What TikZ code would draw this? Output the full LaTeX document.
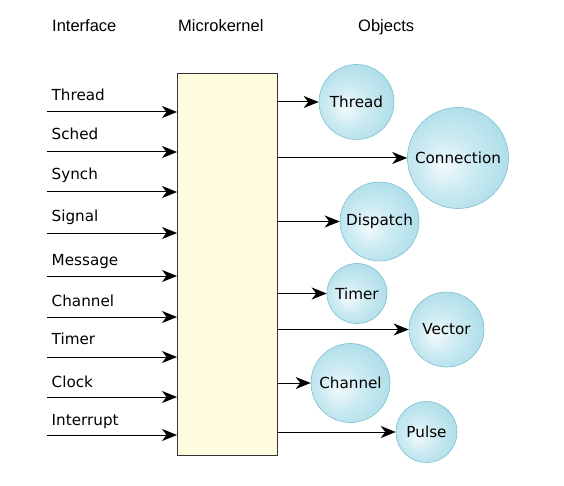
\documentclass[tikz,border=0pt]{standalone}
\usepackage{fontspec}
\setmainfont{DejaVu Sans}
\newfontfamily\hdrfont{Liberation Sans}
\usetikzlibrary{arrows.meta}
\definecolor{boxfill}{HTML}{FFFBDF}
\definecolor{boxline}{HTML}{333333}
\definecolor{sphA}{HTML}{F2FAFC}
\definecolor{sphB}{HTML}{CDEBF2}
\definecolor{sphC}{HTML}{A0D8E5}
\definecolor{sphD}{HTML}{7EC5D6}
\definecolor{sphLine}{HTML}{7DBFCF}
\pgfdeclareradialshading{sphereshade}{\pgfpoint{-8bp}{-4bp}}{color(0bp)=(sphA); color(13bp)=(sphB); color(36bp)=(sphC); color(50bp)=(sphD)}
\begin{document}
\begin{tikzpicture}[x=1pt,y=-1pt,
  lbl/.style={anchor=base west, font=\fontsize{15.2}{18}\selectfont, inner sep=0pt},
  hdr/.style={anchor=base west, font=\hdrfont\fontsize{16.5}{19}\selectfont, inner sep=0pt},
  obj/.style={circle, draw=sphLine, line width=0.6pt, shading=sphereshade, minimum size=#1, inner sep=0pt, font=\fontsize{15.2}{18}\selectfont},
  arr/.style={-{Stealth[length=15pt,width=12pt,inset=4.5pt]}, line width=1pt, black},
  kernel/.style={draw=boxline, fill=boxfill, line width=1.2pt, inner sep=0pt, anchor=north west}]
\useasboundingbox (0,0) rectangle (564,486);
% headers
\node[hdr] (hI) at (52,32) {Interface};
\node[hdr] (hM) at (178,32) {Microkernel};
\node[hdr] (hO) at (358,32) {Objects};
% microkernel box
\node[kernel, minimum width=100pt, minimum height=382pt] (mk) at (177,73) {};
% interface calls
\foreach \t/\b/\a [count=\i] in {Thread/101/112, Sched/140/152, Synch/180/192, Signal/222/233, Message/265/276, Channel/306/317, Timer/344/357, Clock/387/397, Interrupt/425/435}{
  \node[lbl] (L\i) at (51.5,\b) {\t};
  \coordinate (S\i) at (47,\a);
  \draw[arr] (S\i) -- (S\i -| mk.west);
}
% objects
\node[obj=75pt]  (oThread)  at (356.5,102) {Thread};
\node[obj=101pt] (oConn)    at (458,158)   {Connection};
\node[obj=79pt]  (oDisp)    at (379.5,221.5) {Dispatch};
\node[obj=60pt]  (oTimer)   at (357,293.5) {Timer};
\node[obj=75pt]  (oVector)  at (446.5,329.5) {Vector};
\node[obj=79pt]  (oChannel) at (350.5,383) {Channel};
\node[obj=61pt]  (oPulse)   at (426.5,432) {Pulse};
\foreach \o in {oThread,oConn,oDisp,oTimer,oVector,oChannel,oPulse}{
  \draw[arr] (\o.west -| mk.east) -- (\o.west);
}
\end{tikzpicture}
\end{document}
